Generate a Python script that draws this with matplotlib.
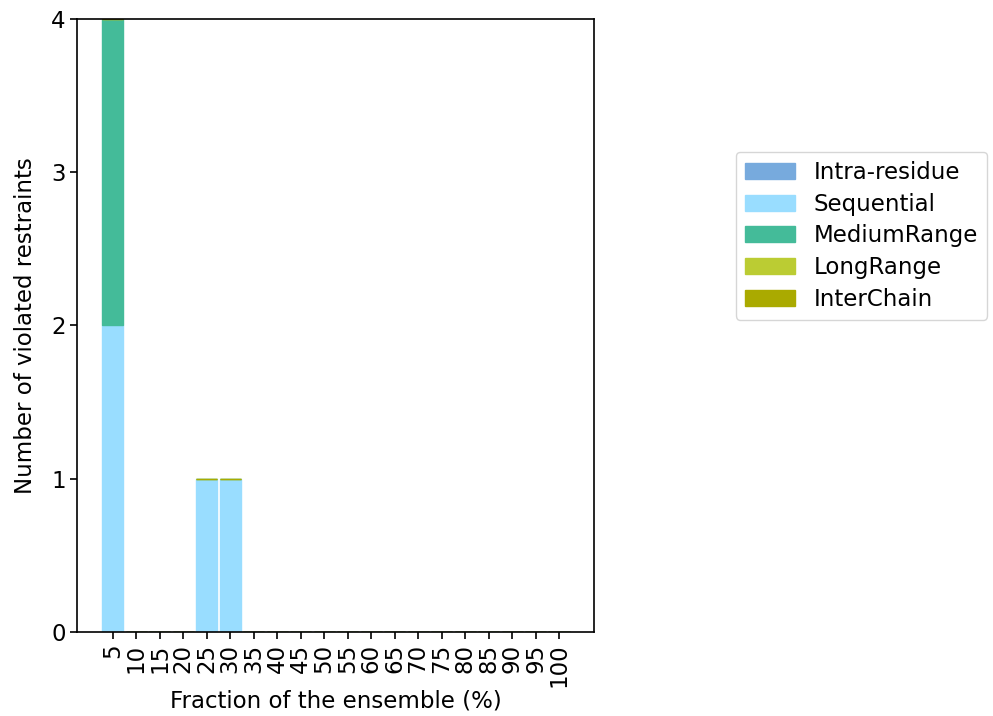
import numpy as np
import matplotlib
matplotlib.use('Agg')
import matplotlib.pyplot as plt

# fraction of the ensemble (%)
fractions = [5, 10, 15, 20, 25, 30, 35, 40, 45, 50, 55, 60, 65, 70, 75, 80, 85, 90, 95, 100]

intra_residue = [0, 0, 0, 0, 0, 0, 0, 0, 0, 0, 0, 0, 0, 0, 0, 0, 0, 0, 0, 0]
sequential    = [2, 0, 0, 0, 1, 1, 0, 0, 0, 0, 0, 0, 0, 0, 0, 0, 0, 0, 0, 0]
medium_range  = [2, 0, 0, 0, 0, 0, 0, 0, 0, 0, 0, 0, 0, 0, 0, 0, 0, 0, 0, 0]
long_range    = [0, 0, 0, 0, 0, 0, 0, 0, 0, 0, 0, 0, 0, 0, 0, 0, 0, 0, 0, 0]
inter_chain   = [0, 0, 0, 0, 0, 0, 0, 0, 0, 0, 0, 0, 0, 0, 0, 0, 0, 0, 0, 0]

labels = ['Intra-residue', 'Sequential', 'MediumRange', 'LongRange', 'InterChain']
colors = ['#77AADD', '#99DDFF', '#44BB99', '#BBCC33', '#AAAA00']
series = [intra_residue, sequential, medium_range, long_range, inter_chain]

plt.rcParams['font.size'] = 16.5

fig = plt.figure(figsize=(9.93, 7.16), dpi=100)
ax = fig.add_axes([0.078, 0.1177, 0.5205, 0.8557])

x = np.arange(len(fractions))
bottom = np.zeros(len(fractions))
for vals, lab, col in zip(series, labels, colors):
    vals = np.array(vals, dtype=float)
    ax.bar(x, vals, width=0.9, bottom=bottom, color=col, edgecolor=col,
           linewidth=1.0, label=lab)
    bottom += vals

ax.set_xticks(x)
ax.set_xticklabels([str(f) for f in fractions], rotation=90)
ax.set_xlim(-1.5, 20.5)
ax.set_ylim(0, 4)
ax.set_yticks([0, 1, 2, 3, 4])
ax.tick_params(length=5, width=1.2)
for sp in ax.spines.values():
    sp.set_linewidth(1.2)
ax.set_xlabel('Fraction of the ensemble (%)', labelpad=2)
ax.set_ylabel('Number of violated restraints', labelpad=10)

fig.legend(loc='upper left', bbox_to_anchor=(0.741, 0.788),
           bbox_transform=fig.transFigure, handlelength=2.2,
           labelspacing=0.38, borderaxespad=0)

fig.savefig('out.png', dpi=100)
